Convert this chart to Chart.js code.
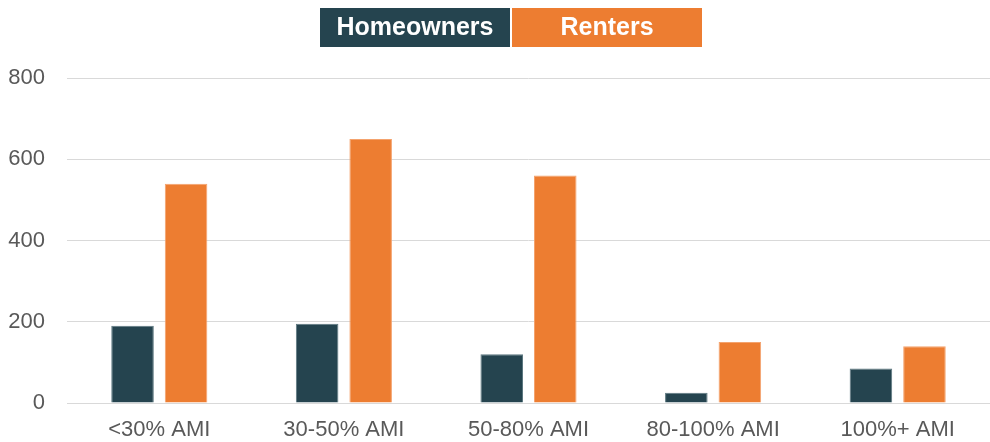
<!DOCTYPE html>
<html>
<head>
<meta charset="utf-8">
<script src="https://cdn.jsdelivr.net/npm/chart.js@4"></script>
<style>
  html, body { margin: 0; padding: 0; background: #fff; }
  #wrap { width: 990px; height: 442px; }
</style>
</head>
<body>
<div id="wrap"><canvas id="myChart"></canvas></div>
<script>
const categories = ['<30% AMI', '30-50% AMI', '50-80% AMI', '80-100% AMI', '100%+ AMI'];
const homeowners = [190, 195, 120, 25, 85];
const renters = [540, 650, 560, 150, 140];
const yTicks = [0, 200, 400, 600, 800];

const DARK = '#25444f';
const ORANGE = '#ed7d31';

// legend drawn as solid boxes with the label inside
const boxLegend = {
  id: 'boxLegend',
  afterDraw(chart) {
    const ctx = chart.ctx;
    const w = 190, h = 39, top = 8;
    const sets = chart.data.datasets;
    const total = w * sets.length + 2;
    let x = (chart.width - total) / 2 + 16;
    ctx.save();
    ctx.font = 'bold 25px "Liberation Sans", Arial, sans-serif';
    ctx.textAlign = 'center';
    ctx.textBaseline = 'middle';
    sets.forEach((ds, i) => {
      ctx.fillStyle = ds.backgroundColor;
      ctx.fillRect(x, top, w, h);
      ctx.fillStyle = '#ffffff';
      ctx.fillText(ds.label, x + w / 2, top + h / 2 + 1);
      x += w + 2;
    });
    ctx.restore();
  }
};

const data = {
  labels: categories,
  datasets: [
    {
      label: 'Homeowners',
      data: homeowners,
      backgroundColor: DARK,
      borderColor: '#5d7880',
      borderWidth: 1,
      barPercentage: 0.795,
      categoryPercentage: 0.58
    },
    {
      label: 'Renters',
      data: renters,
      backgroundColor: ORANGE,
      borderColor: '#f4a36e',
      borderWidth: 1,
      barPercentage: 0.795,
      categoryPercentage: 0.58
    }
  ]
};

const config = {
  type: 'bar',
  data: data,
  options: {
    responsive: true,
    maintainAspectRatio: false,
    animation: false,
    layout: { padding: { top: 78, right: 0, bottom: 0, left: 8 } },
    plugins: {
      legend: { display: false },
      tooltip: { enabled: false }
    },
    scales: {
      x: {
        afterFit(axis) { axis.height = 39; },
        grid: { display: false },
        border: { display: true, color: '#d9d9d9', width: 1 },
        ticks: {
          color: '#595959',
          font: { family: '"Liberation Sans", Arial, sans-serif', size: 22 },
          padding: 6
        }
      },
      y: {
        min: 0,
        max: 800,
        afterFit(axis) { axis.width = 59; },
        afterBuildTicks(axis) { axis.ticks = yTicks.map(v => ({ value: v })); },
        grid: { color: '#d9d9d9', drawTicks: false },
        border: { display: false },
        ticks: {
          color: '#595959',
          font: { family: '"Liberation Sans", Arial, sans-serif', size: 22 },
          padding: 22
        }
      }
    }
  },
  plugins: [boxLegend]
};

const myChart = new Chart(document.getElementById('myChart'), config);
</script>
</body>
</html>
